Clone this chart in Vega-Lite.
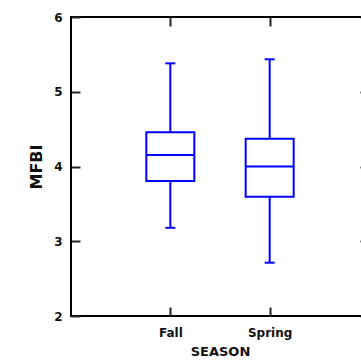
{
  "$schema": "https://vega.github.io/schema/vega-lite/v6.json",
  "autosize": {"type": "none"},
  "padding": {"left": 71, "top": 17, "right": 0, "bottom": 46},
  "width": 298,
  "height": 299,
  "background": "white",
  "config": {
    "view": {"stroke": "black", "strokeWidth": 2},
    "axis": {
      "domain": false,
      "grid": false,
      "tickSize": -9,
      "tickWidth": 2,
      "tickColor": "#222222",
      "labelFont": "DejaVu Sans",
      "labelFontWeight": "bold",
      "labelFontSize": 12,
      "labelColor": "#111111",
      "titleFont": "DejaVu Sans",
      "titleFontWeight": "bold",
      "titleColor": "#111111"
    }
  },
  "data": {
    "values": [
      {"season": "Fall", "lower": 3.18, "q1": 3.806, "median": 4.154, "q3": 4.457, "upper": 5.38},
      {"season": "Spring", "lower": 2.713, "q1": 3.596, "median": 4.0, "q3": 4.372, "upper": 5.434}
    ]
  },
  "layer": [
    {
      "mark": {"type": "rule", "color": "#0000ff", "strokeWidth": 2},
      "encoding": {
        "x": {
          "field": "season", "type": "nominal",
          "scale": {"type": "point", "padding": 1, "domain": ["Fall", "Spring"]},
          "axis": {"orient": "bottom", "title": "SEASON", "labelPadding": 20, "labelAngle": 0, "titleFontSize": 13, "titlePadding": 7}
        },
        "y": {
          "field": "lower", "type": "quantitative",
          "scale": {"domain": [2, 6], "nice": false, "zero": false},
          "axis": {"orient": "left", "title": "MFBI", "values": [2, 3, 4, 5, 6], "labelPadding": 18, "titleFontSize": 16, "titlePadding": 9}
        },
        "y2": {"field": "q1"}
      }
    },
    {
      "mark": {"type": "rule", "color": "#0000ff", "strokeWidth": 2},
      "encoding": {
        "x": {"field": "season", "type": "nominal", "axis": null},
        "y": {"field": "q3", "type": "quantitative", "axis": null},
        "y2": {"field": "upper"}
      }
    },
    {
      "mark": {"type": "bar", "size": 48, "fill": "white", "stroke": "#0000ff", "strokeWidth": 2},
      "encoding": {
        "x": {"field": "season", "type": "nominal", "axis": null},
        "y": {"field": "q1", "type": "quantitative", "axis": null},
        "y2": {"field": "q3"}
      }
    },
    {
      "mark": {"type": "tick", "size": 49, "thickness": 2, "color": "#0000ff", "opacity": 1},
      "encoding": {
        "x": {"field": "season", "type": "nominal", "axis": null},
        "y": {"field": "median", "type": "quantitative", "axis": null}
      }
    },
    {
      "mark": {"type": "tick", "size": 10, "thickness": 2, "color": "#0000ff", "opacity": 1},
      "encoding": {
        "x": {"field": "season", "type": "nominal", "axis": null},
        "y": {"field": "lower", "type": "quantitative", "axis": null}
      }
    },
    {
      "mark": {"type": "tick", "size": 10, "thickness": 2, "color": "#0000ff", "opacity": 1},
      "encoding": {
        "x": {"field": "season", "type": "nominal", "axis": null},
        "y": {"field": "upper", "type": "quantitative", "axis": null}
      }
    },
    {
      "mark": {"type": "tick", "opacity": 0},
      "encoding": {
        "x": {"field": "season", "type": "nominal", "axis": {"orient": "top", "labels": false, "title": null}},
        "y": {"field": "median", "type": "quantitative", "axis": {"orient": "right", "labels": false, "title": null, "values": [2, 3, 4, 5, 6]}}
      }
    }
  ],
  "resolve": {"axis": {"x": "independent", "y": "independent"}}
}
